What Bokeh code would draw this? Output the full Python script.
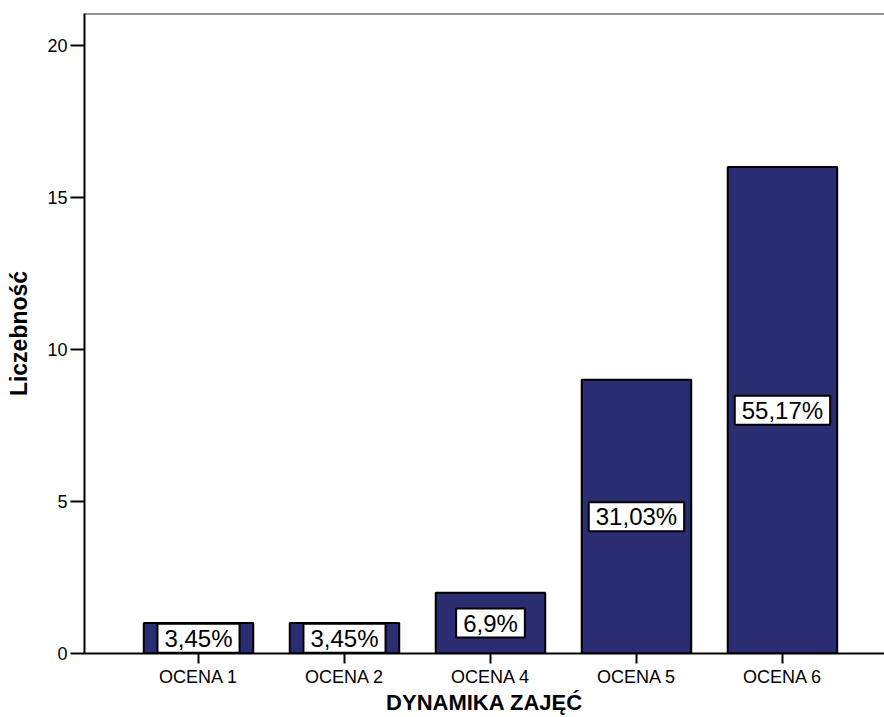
from bokeh.plotting import figure
from bokeh.models import Range1d, FixedTicker, Label, Span
from bokeh.embed import file_html
from bokeh.resources import INLINE

categories = ["OCENA 1", "OCENA 2", "OCENA 4", "OCENA 5", "OCENA 6"]
counts = [1, 1, 2, 9, 16]
percent_labels = ["3,45%", "3,45%", "6,9%", "31,03%", "55,17%"]
y_ticks = [0, 5, 10, 15, 20]

xs = list(range(1, len(categories) + 1))
FONT = "Liberation Sans"
BAR = "#2a2d72"

p = figure(width=884, height=717, output_backend="svg", toolbar_location=None,
           x_range=Range1d(0.219, 5.699), y_range=Range1d(0, 21.05),
           min_border_left=84, min_border_top=13, min_border_bottom=63, min_border_right=0)
p.outline_line_color = None
p.grid.visible = False
p.background_fill_color = "white"
p.border_fill_color = "white"

p.vbar(x=xs, top=counts, width=0.75, fill_color=BAR, line_color="black", line_width=2)

# top frame line
p.add_layout(Span(location=21.05, dimension="width", line_color="#222222", line_width=2))

for x, c, t in zip(xs, counts, percent_labels):
    p.add_layout(Label(x=x, y=c / 2, text=t, text_align="center", text_baseline="middle",
                       text_font=FONT, text_font_size="24px", text_color="black",
                       background_fill_color="white", border_line_color="black",
                       border_line_width=2, padding=(7, 1)))

xa = p.xaxis[0]
xa.ticker = FixedTicker(ticks=xs)
xa.major_label_overrides = {x: c for x, c in zip(xs, categories)}
xa.minor_tick_line_color = None
xa.major_tick_out = 10
xa.major_tick_in = 0
xa.major_tick_line_width = 2
xa.axis_line_width = 2
xa.major_label_standoff = 3
xa.major_label_text_font = FONT
xa.major_label_text_font_size = "18px"
xa.major_label_text_color = "black"
xa.axis_label = "DYNAMIKA ZAJĘĆ"
xa.axis_label_text_font = FONT
xa.axis_label_text_font_style = "bold"
xa.axis_label_text_font_size = "22px"
xa.axis_label_text_color = "black"
xa.axis_label_standoff = 0

ya = p.yaxis[0]
ya.ticker = FixedTicker(ticks=y_ticks)
ya.minor_tick_line_color = None
ya.major_tick_out = 14
ya.major_tick_in = 0
ya.major_tick_line_width = 2
ya.axis_line_width = 2
ya.major_label_standoff = 3
ya.major_label_text_font = FONT
ya.major_label_text_font_size = "18px"
ya.major_label_text_color = "black"
ya.axis_label = "Liczebność"
ya.axis_label_text_font = FONT
ya.axis_label_text_font_style = "bold"
ya.axis_label_text_font_size = "23px"
ya.axis_label_text_color = "black"
ya.axis_label_standoff = 12

open("out.html", "w").write(file_html(p, INLINE))
